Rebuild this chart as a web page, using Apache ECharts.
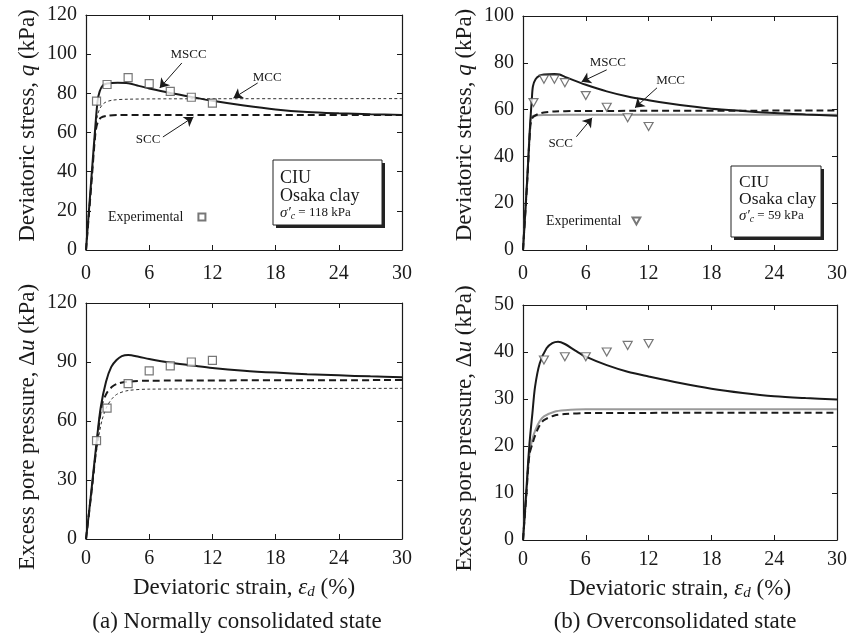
<!DOCTYPE html>
<html><head><meta charset="utf-8">
<script src="https://cdn.jsdelivr.net/npm/echarts/dist/echarts.min.js"></script>
<style>html,body{margin:0;padding:0;background:#fff}#c{width:850px;height:642px}</style>
</head><body><div id="c"></div>
<script>
// ---------------- DATA ----------------
// (a) Normally consolidated, deviatoric stress q (kPa) vs strain (%)
const ncQ_MSCC = [[0,0],[0.5,36],[0.9,64],[1.1,76],[1.3,81],[1.6,84],[2,85],[3,85.4],[4,85.2],[5,83.8],[6,82.5],[8,80.2],[10,78.2],[12,76.2],[15,73.8],[18,71.8],[21,70.5],[24,69.8],[27,69.3],[30,69]];
const ncQ_MCC  = [[0,0],[0.5,33],[0.9,60],[1.1,69],[1.4,73],[1.8,75.3],[2.5,76.5],[4,77],[8,77.2],[30,77.3]];
const ncQ_SCC  = [[0,0],[0.5,33],[0.9,60],[1.1,65],[1.4,67.5],[2,68.5],[3,68.9],[8,69],[30,69]];
const ncExpStrain = [1,2,4,6,8,10,12];
const ncQ_Exp  = [76,84.5,88,85,81,78,75];
// (a) Normally consolidated, excess pore pressure du (kPa)
const ncU_MSCC = [[0,0],[0.5,24],[1,49],[1.4,67],[1.9,80],[2.4,87.5],[2.9,91],[3.4,93],[4,93.6],[5,92.7],[6,91.5],[8,89.6],[10,88.3],[12,87],[15,85.6],[18,84.6],[21,83.8],[24,83.2],[27,82.7],[30,82.3]];
const ncU_MCC  = [[0,0],[0.5,22],[1,45],[1.5,60],[2,67.5],[2.5,71.5],[3,73.8],[4,75.5],[6,76.2],[30,76.6]];
const ncU_SCC  = [[0,0],[0.5,23],[1,47],[1.5,68],[2,74.5],[2.5,77.5],[3,79],[4,80],[6,80.5],[30,80.8]];
const ncU_Exp  = [50,66.5,79,85.5,88,90,90.8];
// (b) Overconsolidated, deviatoric stress q (kPa)
const ocQ_MSCC = [[0,0],[0.4,30],[0.7,55],[0.85,65],[0.95,70],[1.2,73],[1.6,74.5],[2,75],[3,75.2],[3.5,75],[4,74],[5,72.3],[6,70.6],[8,67.8],[10,65.6],[12,64],[14,62.6],[16,61.4],[18,60.4],[21,59.4],[24,58.5],[27,57.9],[30,57.4]];
const ocQ_MCC  = [[0,0],[0.4,29],[0.7,53],[0.85,56],[1,57],[1.5,58.2],[2,58.8],[3,59.2],[5,59.4],[30,59.6]];
const ocQ_SCC  = [[0,0],[0.4,30],[0.7,55],[0.85,57],[1,57.4],[2,57.7],[4,57.8],[30,57.8]];
const ocQ_ExpStrain = [1,2,3,4,6,8,10,12];
const ocQ_Exp  = [63,73,73,71.5,66,61,56.5,52.8];
// (b) Overconsolidated, excess pore pressure du (kPa)
const ocU_MSCC = [[0,0],[0.3,10],[0.6,20],[0.9,27],[1.15,32.6],[1.6,37.6],[2.25,40.8],[2.8,41.9],[3.35,42.2],[4,41.7],[5,40.3],[6,39],[8,37.2],[10,35.8],[12,34.8],[15,33.4],[18,32.2],[21,31.3],[24,30.6],[27,30.2],[30,29.9]];
const ocU_MCC  = [[0,0],[0.3,9],[0.6,18],[0.9,20.5],[1.2,22.5],[1.6,24.4],[2,25.5],[3,26.5],[4,26.8],[6,27],[30,27.1]];
const ocU_SCC  = [[0,0],[0.3,9],[0.6,18],[0.9,21.5],[1.2,23.5],[1.6,25.3],[2,26.3],[3,27.3],[4,27.6],[6,27.8],[30,27.8]];
const ocU_ExpStrain = [2,4,6,8,10,12];
const ocU_Exp  = [38.3,39,39,40,41.4,41.8];

// ---------------- STYLE / LAYOUT ----------------
const FONT = '"Liberation Serif","Times New Roman",serif';
const INK = '#1a1a1a';
const ST = {
  solid: {color: INK, width: 2, type: 'solid'},
  thick: {color: INK, width: 2, type: [7, 4]},
  thin:  {color: '#333', width: 1, type: [3, 2.5]},
  gray:  {color: '#9a9a9a', width: 2, type: 'solid'}
};
const grids = [
  {left: 86, top: 15, width: 316, height: 235},
  {left: 523, top: 16, width: 316, height: 234},
  {left: 86, top: 303, width: 316, height: 236},
  {left: 523, top: 305, width: 316, height: 235}
];
const yCfg = [
  {max: 120, interval: 20, name: 'Deviatoric stress, {i|q} (kPa)', gap: 47, pad: [0, 0, 0, 14]},
  {max: 100, interval: 20, name: 'Deviatoric stress, {i|q} (kPa)', gap: 47, pad: [0, 0, 0, 16]},
  {max: 120, interval: 30, name: 'Excess pore pressure, Δ{i|u} (kPa)', gap: 47, pad: [0, 12, 0, 0]},
  {max: 50, interval: 10, name: 'Excess pore pressure, Δ{i|u} (kPa)', gap: 47, pad: [0, 12, 0, 0]}
];
const nameRich = {i: {fontStyle: 'italic', fontFamily: FONT, fontSize: 23, color: INK},
                  s: {fontStyle: 'italic', fontFamily: FONT, fontSize: 15, color: INK, padding: [9, 0, 0, 0]}};

const xAxes = [], yAxes = [];
grids.forEach((g, i) => {
  const bottomPanel = i >= 2;
  const base = {
    type: 'value', gridIndex: i, min: 0, max: 30, interval: 6,
    axisLine: {show: true, onZero: false, lineStyle: {color: INK, width: 1.2}},
    axisTick: {show: true, inside: true, length: 5, lineStyle: {color: INK, width: 1}},
    splitLine: {show: false}
  };
  xAxes.push(Object.assign({}, base, {
    position: 'bottom',
    axisLabel: {fontFamily: FONT, fontSize: 20, color: INK, margin: bottomPanel ? 10 : 14},
    name: bottomPanel ? 'Deviatoric strain, {i|ε}{s|d} (%)' : '',
    nameLocation: 'middle', nameGap: 37,
    nameTextStyle: {fontFamily: FONT, fontSize: 23, color: INK, rich: nameRich}
  }));
  xAxes.push(Object.assign({}, base, {position: 'top', axisLabel: {show: false}}));
  const yb = {
    type: 'value', gridIndex: i, min: 0, max: yCfg[i].max, interval: yCfg[i].interval,
    axisLine: {show: true, onZero: false, lineStyle: {color: INK, width: 1.2}},
    axisTick: {show: true, inside: true, length: 5, lineStyle: {color: INK, width: 1}},
    splitLine: {show: false}
  };
  yAxes.push(Object.assign({}, yb, {
    position: 'left',
    axisLabel: {fontFamily: FONT, fontSize: 20, color: INK, margin: 9},
    name: yCfg[i].name, nameLocation: 'middle', nameGap: yCfg[i].gap,
    nameTextStyle: {fontFamily: FONT, fontSize: 23, color: INK, rich: nameRich, padding: yCfg[i].pad}
  }));
  yAxes.push(Object.assign({}, yb, {position: 'right', axisLabel: {show: false}}));
});

function line(name, data, gi, style, extra) {
  return Object.assign({
    name, type: 'line', xAxisIndex: 2 * gi, yAxisIndex: 2 * gi, data,
    showSymbol: false, symbol: 'none', smooth: 0.3, lineStyle: style, silent: true, z: 3
  }, extra || {});
}
function pts(name, xs, ys, gi, symbol, size) {
  return {
    name, type: 'scatter', xAxisIndex: 2 * gi, yAxisIndex: 2 * gi,
    data: xs.map((x, k) => [x, ys[k]]), symbol, symbolSize: size, silent: true, z: 4,
    itemStyle: {color: '#fff', borderColor: '#555', borderWidth: 1.2}
  };
}
const TRI = 'path://M0,0L10,0L5,9Z';

function annot(labels, arrows) {
  return {
    markLine: {
      silent: true, symbol: ['none', 'arrow'], symbolSize: 9, animation: false,
      label: {show: false}, lineStyle: {color: INK, width: 1, type: 'solid'},
      emphasis: {disabled: true},
      data: arrows.map(a => [{coord: [a[0], a[1]]}, {coord: [a[2], a[3]]}])
    },
    markPoint: {
      silent: true, symbol: 'circle', symbolSize: 0, animation: false,
      label: {show: true, position: 'inside', formatter: '{b}', fontFamily: FONT, fontSize: 13, color: INK},
      data: labels.map(l => ({name: l[0], coord: [l[1], l[2]]}))
    }
  };
}

const series = [
  // (a) q
  line('MCC', ncQ_MCC, 0, ST.thin),
  line('SCC', ncQ_SCC, 0, ST.thick),
  line('MSCC', ncQ_MSCC, 0, ST.solid, annot(
    [['MSCC', 9.73, 99.6], ['MCC', 17.2, 88.1], ['SCC', 5.9, 56.4]],
    [[9.1, 95.5, 7.0, 82.7], [16.3, 85.3, 14.0, 77.6], [7.3, 57.7, 10.2, 67.9]])),
  pts('Experimental', ncExpStrain, ncQ_Exp, 0, 'rect', 8),
  // (b) q
  line('SCC', ocQ_SCC, 1, ST.gray),
  line('MCC', ocQ_MCC, 1, ST.thick),
  line('MSCC', ocQ_MSCC, 1, ST.solid, annot(
    [['MSCC', 8.1, 80.1], ['MCC', 14.1, 72.3], ['SCC', 3.6, 45.5]],
    [[8.0, 77.0, 5.6, 71.9], [12.8, 69.3, 10.7, 60.8], [5.1, 48.4, 6.6, 56.5]])),
  pts('Experimental ', ocQ_ExpStrain, ocQ_Exp, 1, TRI, [9, 8]),
  // (a) du
  line('MCC', ncU_MCC, 2, ST.thin),
  line('SCC', ncU_SCC, 2, ST.thick),
  line('MSCC', ncU_MSCC, 2, ST.solid),
  pts('Exp NC du', ncExpStrain, ncU_Exp, 2, 'rect', 8),
  // (b) du
  line('SCC', ocU_SCC, 3, ST.gray),
  line('MCC', ocU_MCC, 3, ST.thick),
  line('MSCC', ocU_MSCC, 3, ST.solid),
  pts('Exp OC du', ocU_ExpStrain, ocU_Exp, 3, TRI, [9, 8])
];

function txt(x, y, text, size, extra) {
  return {type: 'text', silent: true, z: 10, style: Object.assign({
    x, y, text, fontFamily: FONT, fontSize: size, fill: INK, verticalAlign: 'middle', align: 'left'
  }, extra || {})};
}
const sigRich = {
  a: {fontStyle: 'italic', fontFamily: FONT, fontSize: 15, fill: INK},
  b: {fontStyle: 'italic', fontFamily: FONT, fontSize: 10, fill: INK, padding: [7, 0, 0, 0]},
  n: {fontFamily: FONT, fontSize: 13, fill: INK}
};
function box(x, y, w, h) {
  return [
    {type: 'rect', silent: true, z: 8, shape: {x: x + 3, y: y + 3, width: w, height: h}, style: {fill: '#222'}},
    {type: 'rect', silent: true, z: 9, shape: {x, y, width: w, height: h}, style: {fill: '#fff', stroke: '#222', lineWidth: 1}}
  ];
}
const graphic = [].concat(
  box(273, 160, 109, 65),
  [txt(280, 178, 'CIU', 18), txt(280, 196, 'Osaka clay', 18),
   txt(280, 213, '{a|σ′}{b|c}{n| = 118 kPa}', 13, {rich: sigRich})],
  box(731, 166, 90, 71),
  [txt(739, 182, 'CIU', 17.5), txt(739, 199, 'Osaka clay', 17.5),
   txt(739, 216, '{a|σ′}{b|c}{n| = 59 kPa}', 13, {rich: sigRich})],
  [txt(237, 622, '(a) Normally consolidated state', 23, {align: 'center'}),
   txt(675, 622, '(b) Overconsolidated state', 23, {align: 'center'})]
);

const legendBase = {orient: 'horizontal', align: 'right', padding: 0, selectedMode: false};
const chart = echarts.init(document.getElementById('c'), null, {renderer: 'canvas'});
chart.setOption({
  animation: false,
  backgroundColor: '#fff',
  grid: grids.map(g => Object.assign({containLabel: false}, g)),
  xAxis: xAxes,
  yAxis: yAxes,
  legend: [
    Object.assign({}, legendBase, {data: ['Experimental'], left: 108, top: 210, itemWidth: 7, itemHeight: 7,
      textStyle: {fontFamily: FONT, fontSize: 14, color: INK, padding: [0, 10, 0, 0]}}),
    Object.assign({}, legendBase, {data: ['Experimental '], left: 546, top: 214, itemWidth: 8, itemHeight: 7,
      textStyle: {fontFamily: FONT, fontSize: 14, color: INK, padding: [0, 6, 0, 0]},
      formatter: () => 'Experimental'})
  ],
  series,
  graphic
});
</script></body></html>
